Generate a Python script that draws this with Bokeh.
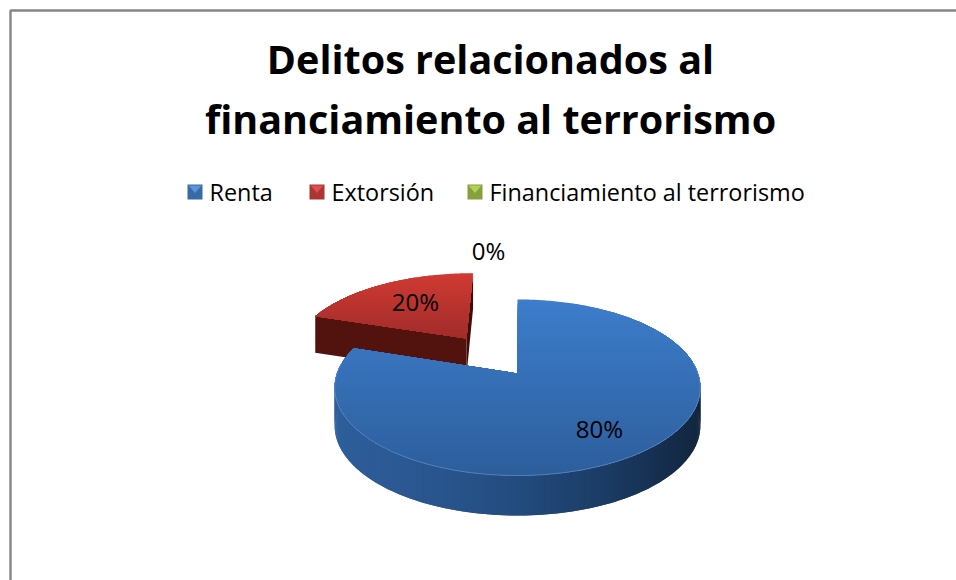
import math
from bokeh.plotting import figure
from bokeh.models import Range1d
from bokeh.core.properties import value
from bokeh.embed import file_html
from bokeh.resources import INLINE

title_lines = ["Delitos relacionados al", "financiamiento al terrorismo"]
categories = ["Renta", "Extorsión", "Financiamiento al terrorismo"]
percent = [80, 20, 0]
legend_fill = ["#376BA8", "#AC3431", "#86A03C"]
legend_light = ["#5B93D6", "#D9504C", "#B2D05A"]
FONT = "Open Sans"

p = figure(width=956, height=580, x_range=Range1d(0, 956), y_range=Range1d(580, 0),
           output_backend="svg", toolbar_location=None, min_border=0)
p.axis.visible = False
p.grid.visible = False
p.outline_line_color = None
p.background_fill_color = "white"

# chart frame
p.line([956, 10, 10], [10, 10, 580], line_color="#868686", line_width=2.4)

# projection of the pie plane onto the page
CX, CY, R, A, C = 517.0, 373.0, 180.5, -26.5, 0.159
def proj(u, v):
    d = 1 + C * v
    return CX + R * u / d, (A * v + CY) / d
def depth(v):
    return 38 - 2 * v

def rim(t0, t1, ou=0.0, ov=0.0, n=120):
    pts = []
    for i in range(n + 1):
        t = math.radians(t0 + (t1 - t0) * i / n)
        pts.append((math.sin(t) + ou, math.cos(t) + ov))
    return pts

def clip_below(poly, y0):
    out = []
    for i in range(len(poly)):
        a, b = poly[i], poly[(i + 1) % len(poly)]
        ina, inb = a[1] >= y0, b[1] >= y0
        if ina:
            out.append(a)
        if ina != inb:
            k = (y0 - a[1]) / (b[1] - a[1])
            out.append((a[0] + k * (b[0] - a[0]), y0))
    return out

def mix(c0, c1, k):
    a = [int(c0[i:i + 2], 16) for i in (1, 3, 5)]
    b = [int(c1[i:i + 2], 16) for i in (1, 3, 5)]
    return "#%02x%02x%02x" % tuple(round(x + (y - x) * k) for x, y in zip(a, b))

def ramp(stops, k):
    k = max(0.0, min(1.0, k))
    m = len(stops) - 1
    i = min(int(k * m), m - 1)
    return mix(stops[i], stops[i + 1], k * m - i)

def shaded_face(poly, c0, c1, steps=40):
    ys = [q[1] for q in poly]
    y0, y1 = min(ys), max(ys)
    for i in range(steps):
        yy = y0 + (y1 - y0) * i / steps
        part = clip_below(poly, yy)
        if len(part) > 2:
            col = mix(c0, c1, i / (steps - 1))
            p.patch([q[0] for q in part], [q[1] for q in part], fill_color=col, line_color=None)

shares = [v / sum(percent) * 360 for v in percent]
blue_end = shares[0]
red_end = blue_end + shares[1]
mid = math.radians((blue_end + red_end) / 2)
OU, OV = 0.37 * math.sin(mid) * 1.39, 0.54 * math.cos(mid)

# exploded red slice: walls then top
rr = rim(blue_end, red_end, OU, OV)
apex_r = (OU, OV)
left = rr[0]
right = rr[-1]
for a, b, col in ((left, apex_r, "#52120D"), (apex_r, right, "#3E0E0A")):
    pa, pb = proj(*a), proj(*b)
    p.patch([pa[0], pb[0], pb[0], pa[0]],
            [pa[1], pb[1], pb[1] + depth(b[1]), pa[1] + depth(a[1])],
            fill_color=col, line_color=None)
red_top = [proj(*q) for q in rr] + [proj(*apex_r)]
shaded_face(red_top, "#D03A33", "#A12C2A", 24)

# blue slice: side wall then top
wall = [q for q in rim(0, blue_end, n=360) if q[1] <= 0.12]
xs = [proj(*q)[0] for q in wall]
x0, x1 = min(xs), max(xs)
stops = ["#2E5F9C", "#2A5690", "#234C7F", "#1B3B64", "#12263F"]
for i in range(len(wall) - 1):
    a, b = wall[i], wall[min(i + 2, len(wall) - 1)]
    pa, pb = proj(*a), proj(*b)
    k = (pa[0] - x0) / (x1 - x0)
    p.patch([pa[0], pb[0], pb[0], pa[0]],
            [pa[1], pb[1], pb[1] + depth(b[1]), pa[1] + depth(a[1])],
            fill_color=ramp(stops, k), line_color=None)

blue_top = [proj(*q) for q in rim(0, blue_end, n=360)] + [proj(0, 0)]
shaded_face(blue_top, "#3D7DCB", "#2D5E9C", 40)
front = [proj(*q) for q in wall]
p.line([q[0] for q in front], [q[1] for q in front], line_color="#6F97C8", line_alpha=0.6, line_width=1)

# slice labels
lab_x = [599, 415, 488]
lab_y = [428, 301, 250]
p.text(lab_x, lab_y, text=[f"{v}%" for v in percent], text_font=value(FONT), text_font_size="24px",
       text_color="black", text_align="center", text_baseline="middle")

# legend
mark_x = [187, 309, 467]
text_x = [209, 331, 489]
S = 15
MY = 184
for i, c in enumerate(categories):
    x = mark_x[i]
    p.quad(left=[x], right=[x + S], top=[MY], bottom=[MY + S], fill_color=legend_fill[i], line_color=None)
    p.patch([x + 1, x + S - 1, x + S / 2], [MY + 1, MY + 1, MY + S / 2 + 1], fill_color=legend_light[i], line_color=None)
p.text(text_x, [191] * 3, text=categories, text_font=value(FONT), text_font_size="23.4px",
       text_color="black", text_align="left", text_baseline="middle")

# title
p.text([490, 490], [58, 118], text=title_lines, text_font=value(FONT), text_font_style="bold",
       text_font_size="39.5px", text_color="black", text_align="center", text_baseline="middle")

open("out.html", "w").write(file_html(p, INLINE))
